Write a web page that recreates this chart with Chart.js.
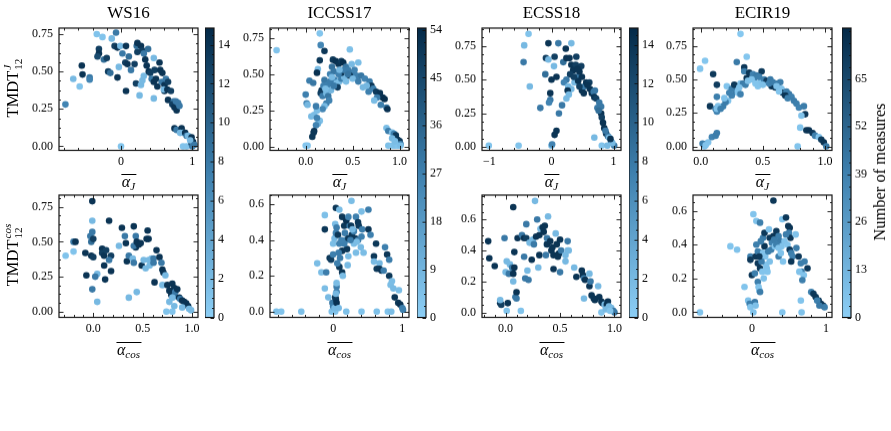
<!DOCTYPE html>
<html>
<head>
<meta charset="utf-8">
<script src="https://cdn.jsdelivr.net/npm/chart.js@4.4.1/dist/chart.umd.min.js"></script>
<style>
  body { margin: 0; width: 891px; height: 431px; position: relative; overflow: hidden; background: #fff;
         font-family: "Liberation Serif", serif; color: #000; }
  .holder { position: absolute; }
  .title { position: absolute; font-size: 17px; line-height: 20px; transform: translateX(-50%); white-space: nowrap; }
  .ylab { position: absolute; font-size: 16.5px; white-space: nowrap; transform: translate(-50%, -50%) rotate(-90deg); }
  .ss { display: inline-flex; flex-direction: column; font-size: 11px; line-height: 11px; vertical-align: 7px; margin-left: 1px; }
  .ss i { font-style: italic; }
  .xlab { position: absolute; transform: translateX(-50%); white-space: nowrap; font-size: 16px; }
  .ov { display: inline-block; line-height: 14px; border-top: 1.2px solid #000; padding: 0 1px; font-style: italic; }
  .ov sub { font-size: 11px; vertical-align: -3px; line-height: 0; }
  .cblab { position: absolute; font-size: 16.5px; white-space: nowrap; transform: translate(-50%, -50%) rotate(-90deg); }
</style>
</head>
<body>
<script>
// conference columns
const titles = ['WS16', 'ICCSS17', 'ECSS18', 'ECIR19'];

// tick values
const yTicksQuarter = [0, 0.25, 0.5, 0.75];
const yTicksFifth = [0, 0.2, 0.4, 0.6];
const xTicksUnit = [0, 1];
const xTicksHalf = [0, 0.5, 1];
const xTicksSym = [-1, 0, 1];
const cbTicksWS16 = [0, 2, 4, 6, 8, 10, 12, 14];
const cbTicksICCSS17 = [0, 9, 18, 27, 36, 45, 54];
const cbTicksECSS18 = [0, 2, 4, 6, 8, 10, 12, 14];
const cbTicksECIR19 = [0, 13, 26, 39, 52, 65];
// max number of measures per conference (top of colour bar)
const cbMax = [14.85, 54.3, 14.85, 78.8];

// points: [mean alpha, TMDT, number of measures]
const ws16J = [
  [-0.78,0.28,7],[-0.67,0.45,2],[-0.58,0.40,1],[-0.54,0.48,14],[-0.55,0.54,14],[-0.44,0.46,8],[-0.44,0.445,7],
  [-0.34,0.75,1],[-0.26,0.73,1],[-0.31,0.65,13],[-0.31,0.62,14],[-0.33,0.60,12],[-0.24,0.58,9],[-0.20,0.59,13],
  [-0.18,0.50,13],[-0.15,0.49,9],[-0.13,0.72,2],[-0.07,0.76,8],[-0.09,0.67,13],[-0.05,0.66,14],[-0.01,0.67,2],
  [-0.05,0.46,14],[-0.03,0.53,2],[0.00,0.00,1],[0.02,0.62,8],[0.07,0.67,14],[0.06,0.56,13],[0.09,0.55,14],
  [0.07,0.37,14],[0.11,0.60,9],[0.14,0.51,8],[0.19,0.55,13],[0.21,0.42,13],[0.23,0.63,13],[0.22,0.67,9],
  [0.26,0.34,2],[0.28,0.41,2],[0.30,0.44,2],[0.32,0.47,2],[0.23,0.69,14],[0.28,0.67,14],[0.30,0.64,13],[0.32,0.62,8],
  [0.34,0.58,14],[0.36,0.54,14],[0.39,0.50,14],[0.41,0.49,13],[0.43,0.45,8],[0.46,0.43,14],[0.38,0.65,9],
  [0.46,0.59,2],[0.47,0.51,13],[0.49,0.45,14],[0.51,0.40,14],[0.46,0.32,2],[0.54,0.56,14],[0.55,0.51,14],
  [0.58,0.49,14],[0.57,0.43,8],[0.61,0.41,14],[0.61,0.37,14],[0.63,0.45,8],[0.60,0.38,2],[0.65,0.38,14],
  [0.66,0.31,14],[0.66,0.43,13],[0.70,0.37,13],[0.74,0.30,8],[0.72,0.28,13],[0.75,0.26,14],[0.77,0.30,8],[0.80,0.29,8],
  [0.78,0.24,14],[0.82,0.27,8],[0.75,0.12,14],[0.78,0.11,8],[0.85,0.12,14],[0.83,0.09,2],[0.87,0.09,2],[0.90,0.09,14],
  [0.92,0.07,8],[0.94,0.07,2],[0.87,0.0,1],[0.92,0.0,1],[0.99,0.06,14],[0.99,0.02,14],[1.01,0.03,14],[1.00,0.0,8],
  [0.97,0.04,2],[1.03,0.01,8]
];
const iccss17J = [
  [-0.31,0.665,4],[0.15,0.78,3],[0.16,0.70,25],[0.20,0.66,50],[0.47,0.67,5],[0.15,0.595,50],[0.13,0.535,6],[0.12,0.51,52],
  [0.04,0.456,28],[0.08,0.44,30],[0.0,0.36,27],[0.01,0.30,25],[0.02,0.29,8],[0.06,0.21,7],[0.09,0.22,6],
  [0.15,0.18,5],[0.13,0.16,9],[0.11,0.15,26],[0.09,0.11,52],[0.085,0.10,50],[0.07,0.07,50],[0.12,0.20,26],
  [0.02,0.01,4],[0.0,0.01,3],
  [0.17,0.39,51],[0.16,0.37,48],[0.20,0.46,30],[0.18,0.35,28],[0.22,0.37,8],[0.24,0.43,27],[0.26,0.50,26],[0.28,0.55,32],
  [0.29,0.60,50],[0.32,0.59,52],[0.35,0.57,51],[0.38,0.59,49],[0.40,0.58,53],[0.43,0.55,30],[0.45,0.53,28],[0.49,0.57,7],
  [0.56,0.58,6],[0.50,0.51,29],[0.54,0.49,27],[0.59,0.49,30],[0.63,0.47,26],[0.68,0.45,28],[0.70,0.42,50],[0.65,0.42,8],
  [0.72,0.40,27],[0.75,0.38,49],[0.79,0.37,51],[0.82,0.34,52],[0.84,0.33,53],[0.76,0.34,28],[0.73,0.32,6],[0.80,0.29,27],
  [0.86,0.27,29],[0.87,0.26,52],[0.31,0.46,26],[0.33,0.44,7],[0.36,0.45,6],[0.38,0.47,27],[0.41,0.48,8],[0.43,0.45,6],
  [0.22,0.30,27],[0.20,0.28,7],[0.18,0.26,25],[0.24,0.35,30],[0.27,0.39,9],[0.34,0.41,48],[0.38,0.51,50],[0.47,0.49,49],
  [0.50,0.47,7],[0.56,0.45,28],[0.61,0.41,8],[0.67,0.38,27],
  [0.30,0.52,30],[0.26,0.45,28],[0.30,0.42,29],[0.35,0.50,27],[0.45,0.50,31],[0.52,0.53,26],[0.40,0.53,28],[0.28,0.48,7],
  [0.36,0.53,8],[0.19,0.42,27],[0.21,0.40,6],[0.25,0.32,26],[0.12,0.25,6],[0.11,0.28,28],
  [0.86,0.13,6],[0.88,0.11,28],[0.92,0.10,7],[0.94,0.09,27],[0.96,0.08,50],[0.98,0.05,52],[1.0,0.04,50],[1.01,0.02,28],
  [0.88,0.01,5],[0.92,0.01,4],[0.95,0.01,5],[0.98,0.01,4],[1.01,0.01,6],[0.92,0.06,8],[0.95,0.04,6]
];
const ecss18J = [
  [-1.01,0.01,1],[-0.53,0.01,1],[-0.37,0.84,1],[-0.44,0.755,2],[-0.45,0.63,8],[-0.35,0.45,2],
  [-0.05,0.77,14],[0.11,0.77,8],[0.32,0.77,2],[-0.09,0.66,13],[-0.05,0.65,2],[0.05,0.67,13],[0.04,0.60,2],
  [0.0,0.50,14],[0.08,0.52,14],[-0.10,0.54,9],[-0.18,0.29,8],[-0.02,0.40,14],[-0.02,0.35,8],[-0.04,0.33,7],
  [0.0,0.01,2],[0.01,0.02,7],[0.08,0.12,14],[0.05,0.09,14],[0.12,0.25,8],[0.17,0.31,8],[0.24,0.36,2],
  [0.19,0.63,9],[0.23,0.73,14],[0.24,0.66,14],[0.29,0.66,14],[0.40,0.67,13],[0.32,0.61,14],[0.39,0.61,13],
  [0.35,0.57,14],[0.30,0.54,13],[0.24,0.50,8],[0.20,0.48,7],[0.27,0.45,2],[0.32,0.43,2],[0.37,0.48,2],[0.40,0.52,8],
  [0.45,0.56,14],[0.48,0.60,13],[0.49,0.52,14],[0.43,0.49,14],[0.49,0.42,14],[0.53,0.45,8],[0.56,0.48,14],
  [0.61,0.48,13],[0.62,0.43,14],[0.65,0.40,14],[0.68,0.41,8],[0.70,0.42,8],[0.69,0.37,14],[0.72,0.36,13],
  [0.69,0.07,2],[0.77,0.33,8],[0.80,0.30,8],[0.80,0.25,14],[0.81,0.22,13],[0.85,0.14,14],[0.88,0.10,13],
  [0.91,0.08,8],[0.93,0.07,2],[0.96,0.04,8],[1.01,0.01,8],[0.81,0.01,1],[0.90,0.01,2],[0.98,0.03,2],
  [0.26,0.42,14],[0.28,0.39,2],[0.45,0.45,13],[0.52,0.40,14],[0.58,0.46,14],[0.42,0.58,14],[0.36,0.52,13],
  [0.74,0.29,8],[0.76,0.27,9],[0.83,0.18,14],[0.87,0.12,8],[0.95,0.06,14]
];
const ecir19J = [
  [-0.005,0.58,5],[0.035,0.64,4],[0.10,0.54,72],[0.13,0.46,70],[0.13,0.37,40],[0.075,0.30,73],[0.12,0.28,42],[0.13,0.26,38],
  [0.18,0.30,40],[0.22,0.34,6],[0.25,0.38,38],[0.28,0.41,41],[0.21,0.45,5],[0.29,0.63,42],[0.32,0.84,3],[0.37,0.67,4],
  [0.35,0.59,72],[0.35,0.56,40],[0.32,0.47,7],[0.29,0.43,5],[0.34,0.47,41],[0.37,0.51,74],[0.36,0.46,40],[0.39,0.55,73],
  [0.42,0.54,39],[0.45,0.53,42],[0.49,0.56,71],[0.48,0.48,6],[0.46,0.45,5],[0.43,0.51,40],[0.51,0.50,38],[0.53,0.49,70],
  [0.56,0.50,42],[0.57,0.45,74],[0.60,0.44,72],[0.62,0.47,40],[0.64,0.48,41],[0.65,0.43,6],[0.66,0.40,73],[0.63,0.41,5],
  [0.69,0.41,40],[0.71,0.39,42],[0.73,0.37,39],[0.75,0.34,41],[0.77,0.32,40],[0.79,0.29,38],[0.83,0.30,41],[0.84,0.24,72],
  [0.81,0.23,6],[0.80,0.14,5],[0.85,0.12,73],[0.87,0.12,75],[0.90,0.10,72],[0.92,0.08,40],[0.95,0.07,6],[0.97,0.05,71],
  [0.99,0.03,74],[1.01,0.0,42],[0.78,0.0,5],[0.30,0.40,6],[0.32,0.39,39],[0.20,0.33,41],[0.13,0.28,6],[0.14,0.30,7],
  [0.03,0.0,5],[0.035,0.01,6],[0.06,0.03,6],[0.09,0.07,38],[0.12,0.08,40],[0.13,0.10,41],[0.015,0.02,40],[0.04,0.01,5],
  [0.25,0.43,40],[0.27,0.46,72],[0.31,0.44,6],[0.38,0.49,7],[0.41,0.50,6],[0.44,0.47,5],[0.47,0.52,40],[0.50,0.46,7],
  [0.55,0.47,39],[0.58,0.48,41],[0.61,0.45,7],[0.68,0.38,74],[0.70,0.36,40],[0.23,0.40,39],[0.19,0.36,6],[0.16,0.28,40]
];
const ws16Cos = [
  [-0.28,0.40,1],[-0.20,0.43,1],[-0.20,0.50,8],[-0.18,0.50,14],[-0.08,0.42,14],[-0.07,0.26,14],[-0.03,0.54,8],
  [-0.02,0.50,9],[0.0,0.52,13],[-0.01,0.57,8],[-0.01,0.65,2],[-0.01,0.79,14],[-0.02,0.40,14],[0.0,0.39,13],
  [-0.01,0.16,8],[0.04,0.27,2],[0.02,0.25,8],[0.04,0.07,2],[0.09,0.45,14],[0.09,0.42,13],[0.11,0.40,14],
  [0.11,0.33,14],[0.12,0.23,14],[0.13,0.44,13],[0.16,0.65,14],[0.18,0.40,13],[0.18,0.29,14],[0.16,0.37,8],
  [0.26,0.47,2],[0.29,0.60,14],[0.32,0.54,8],[0.33,0.49,14],[0.34,0.36,14],[0.36,0.40,8],[0.36,0.10,2],
  [0.40,0.38,2],[0.41,0.35,8],[0.41,0.61,14],[0.43,0.54,8],[0.43,0.46,14],[0.41,0.47,8],[0.44,0.14,2],[0.44,0.50,14],
  [0.46,0.48,14],[0.48,0.49,14],[0.49,0.33,14],[0.51,0.37,2],[0.53,0.31,2],[0.55,0.58,14],[0.54,0.52,14],[0.56,0.52,14],
  [0.56,0.37,2],[0.59,0.38,2],[0.57,0.33,2],[0.61,0.38,8],[0.61,0.35,8],[0.64,0.44,14],[0.62,0.21,14],[0.67,0.39,14],
  [0.69,0.35,8],[0.70,0.30,14],[0.71,0.28,14],[0.70,0.19,2],[0.73,0.26,2],[0.75,0.19,14],[0.77,0.15,14],[0.79,0.12,14],
  [0.77,0.07,2],[0.80,0.20,14],[0.82,0.17,14],[0.83,0.14,8],[0.82,0.11,8],[0.80,0.10,2],[0.85,0.16,14],[0.87,0.10,14],
  [0.80,0.0,1],[0.82,0.04,2],[0.88,0.09,8],[0.90,0.08,14],[0.92,0.07,14],[0.94,0.06,14],[0.96,0.04,14],[0.97,0.02,2],
  [0.99,0.01,2],[0.74,0.0,1],[0.90,0.03,2]
];
const iccss17Cos = [
  [-0.82,0.0,5],[-0.75,0.0,4],[-0.46,0.0,5],[0.19,0.0,5],[0.41,0.0,4],[0.63,0.0,5],[0.79,0.0,4],[0.84,0.0,6],[-0.02,0.0,5],[0.03,0.0,4],
  [-0.23,0.27,6],[-0.17,0.22,6],[-0.10,0.22,28],[-0.12,0.54,5],[-0.12,0.46,50],[-0.12,0.13,6],[-0.07,0.08,7],
  [-0.05,0.30,50],[-0.03,0.29,48],[-0.01,0.05,30],[0.0,0.03,28],[0.02,0.02,7],[0.03,0.08,50],[0.04,0.07,49],[0.05,0.05,52],
  [0.05,0.14,28],[0.05,0.11,26],[0.04,0.10,8],[0.05,0.16,6],[0.08,0.02,7],
  [0.0,0.32,27],[0.00,0.38,6],[0.02,0.41,7],[0.04,0.44,26],[0.03,0.49,6],[0.04,0.58,50],[0.09,0.57,6],[0.05,0.47,28],
  [0.07,0.43,50],[0.09,0.38,27],[0.13,0.34,50],[0.10,0.30,28],[0.09,0.25,50],[0.13,0.22,50],[0.14,0.20,6],
  [0.16,0.48,50],[0.17,0.44,28],[0.18,0.40,27],[0.20,0.35,50],[0.22,0.31,6],[0.21,0.26,7],[0.24,0.48,28],[0.27,0.43,50],
  [0.265,0.62,6],[0.33,0.53,27],[0.36,0.50,50],[0.37,0.48,49],[0.41,0.56,6],[0.42,0.46,28],[0.41,0.42,27],[0.33,0.33,6],
  [0.40,0.36,7],[0.44,0.33,6],[0.51,0.57,28],[0.51,0.46,51],[0.54,0.43,27],[0.62,0.38,50],[0.59,0.31,50],[0.59,0.28,7],
  [0.67,0.27,8],[0.63,0.24,49],[0.67,0.24,50],[0.70,0.23,51],[0.73,0.23,28],[0.75,0.36,27],[0.78,0.32,50],[0.81,0.29,28],
  [0.81,0.20,50],[0.85,0.17,6],[0.83,0.15,6],[0.87,0.13,7],[0.89,0.08,51],[0.94,0.05,50],[0.97,0.04,52],[0.95,0.12,6],
  [1.0,0.02,28],[1.01,0.01,27],
  [0.13,0.53,50],[0.19,0.51,52],[0.22,0.53,27],[0.26,0.48,50],[0.30,0.45,27],[0.32,0.41,50],[0.36,0.40,28],[0.22,0.41,50],
  [0.16,0.38,27],[0.08,0.33,28],[0.06,0.27,27],[0.30,0.38,6],[0.34,0.39,6],[0.28,0.46,7],[0.25,0.40,28],[0.12,0.40,26]
];
const ecss18Cos = [
  [-0.16,0.46,14],[-0.15,0.35,14],[-0.10,0.30,14],[-0.05,0.06,14],[-0.04,0.05,13],[-0.05,0.08,2],[-0.01,0.48,8],
  [0.01,0.33,2],[0.0,0.26,2],[0.01,0.01,1],[0.02,0.06,14],[0.03,0.25,8],[0.04,0.31,2],[0.06,0.29,8],[0.07,0.25,14],
  [0.08,0.39,14],[0.07,0.20,2],[0.08,0.29,14],[0.09,0.10,8],[0.10,0.13,14],[0.10,0.09,8],[0.07,0.68,14],[0.11,0.48,14],
  [0.14,0.01,1],[0.15,0.50,8],[0.17,0.36,8],[0.19,0.57,8],[0.17,0.48,14],[0.19,0.48,13],[0.18,0.22,8],[0.20,0.27,2],
  [0.21,0.21,8],[0.22,0.45,2],[0.24,0.34,14],[0.25,0.47,2],[0.26,0.44,8],[0.27,0.72,2],[0.28,0.49,14],[0.29,0.60,8],
  [0.30,0.29,2],[0.31,0.37,14],[0.31,0.50,14],[0.32,0.54,2],[0.34,0.55,14],[0.35,0.52,14],[0.36,0.56,14],[0.38,0.44,2],
  [0.39,0.62,2],[0.38,0.44,14],[0.37,0.37,8],[0.38,0.48,8],[0.41,0.46,14],[0.42,0.40,14],[0.43,0.42,14],[0.44,0.37,14],
  [0.44,0.28,14],[0.47,0.44,14],[0.46,0.51,2],[0.49,0.38,14],[0.48,0.36,14],[0.50,0.47,14],[0.50,0.26,8],[0.51,0.40,8],
  [0.55,0.37,2],[0.55,0.33,2],[0.57,0.46,8],[0.57,0.40,2],[0.58,0.40,2],[0.63,0.29,2],[0.65,0.23,14],[0.70,0.27,14],
  [0.71,0.24,14],[0.72,0.22,8],[0.73,0.21,14],[0.77,0.17,14],[0.77,0.25,2],[0.78,0.20,8],[0.79,0.11,14],[0.81,0.09,14],
  [0.82,0.08,14],[0.85,0.17,2],[0.86,0.10,14],[0.88,0.07,14],[0.89,0.06,14],[0.91,0.05,2],[0.93,0.05,14],[0.94,0.07,14],
  [0.95,0.04,2],[0.97,0.03,2],[0.99,0.01,8],[1.0,0.0,8],[0.88,0.0,1],[0.72,0.09,2],[0.92,0.02,2],[0.96,0.01,1]
];
const ecir19Cos = [
  [-0.70,0.0,5],[-0.29,0.39,5],[-0.20,0.37,6],[-0.10,0.15,5],[-0.05,0.07,6],[-0.03,0.05,40],[-0.02,0.03,5],[0.02,0.0,6],
  [0.04,0.06,42],[0.05,0.04,7],[0.02,0.58,5],[0.06,0.54,6],[0.11,0.53,40],[-0.02,0.33,39],[-0.02,0.31,72],[0.0,0.22,73],
  [0.04,0.23,40],[0.05,0.33,73],[0.06,0.40,40],[0.08,0.29,72],[0.08,0.18,40],[0.09,0.15,6],[0.10,0.13,5],[0.11,0.12,41],
  [0.11,0.26,73],[0.13,0.35,40],[0.15,0.44,41],[0.17,0.47,72],[0.17,0.39,74],[0.18,0.33,6],[0.19,0.28,5],[0.20,0.26,6],
  [0.21,0.24,5],[0.23,0.49,6],[0.24,0.44,72],[0.26,0.37,40],[0.27,0.41,39],[0.29,0.45,73],[0.33,0.48,72],[0.31,0.39,5],
  [0.36,0.45,40],[0.38,0.42,42],[0.36,0.33,40],[0.40,0.39,6],[0.41,0.55,5],[0.46,0.56,72],[0.49,0.51,73],[0.51,0.50,74],
  [0.50,0.47,40],[0.52,0.44,73],[0.46,0.46,41],[0.44,0.42,6],[0.48,0.40,5],[0.51,0.37,72],[0.53,0.35,40],[0.55,0.33,39],
  [0.53,0.30,73],[0.59,0.46,6],[0.60,0.38,41],[0.63,0.33,72],[0.66,0.29,40],[0.67,0.24,41],[0.64,0.24,6],[0.70,0.22,5],
  [0.68,0.19,40],[0.71,0.30,40],[0.75,0.26,72],[0.29,0.66,73],[0.42,0.30,5],[0.41,0.0,5],[0.67,0.0,6],[0.66,0.07,5],
  [0.80,0.12,40],[0.83,0.11,72],[0.86,0.09,73],[0.90,0.07,74],[0.93,0.05,72],[0.96,0.04,73],[0.98,0.03,40],[0.88,0.07,40],
  [0.91,0.04,42],
  [0.08,0.36,40],[0.12,0.42,40],[0.15,0.35,6],[0.22,0.36,40],[0.24,0.30,7],[0.30,0.43,41],[0.33,0.40,40],[0.36,0.38,6],
  [0.39,0.35,6],[0.14,0.24,5],[0.16,0.20,6],[0.13,0.30,41],[0.10,0.33,72]
];

// ---- layout ----
const colLeft = [59, 270, 482, 693];
const rowTop = [28, 195];
const PW = 139, PH = 121.5;
const cbLeft = [205, 417, 629, 842];
const CBW = 9;
const PADL = 45, PADT = 10, PADR = 14, PADB = 24;

Chart.defaults.font.family = "'Liberation Serif', serif";
Chart.defaults.font.size = 12;
Chart.defaults.color = '#000';

const stops = [[0, [140, 206, 245]], [0.5, [62, 128, 174]], [1, [4, 42, 72]]];
function cmap(t) {
  t = Math.max(0, Math.min(1, t));
  for (let i = 1; i < stops.length; i++) {
    if (t <= stops[i][0]) {
      const a = stops[i - 1], b = stops[i];
      const f = (t - a[0]) / (b[0] - a[0]);
      const c = a[1].map((v, k) => Math.round(v + (b[1][k] - v) * f));
      return `rgb(${c[0]},${c[1]},${c[2]})`;
    }
  }
}

function minorVals(min, max, step, majors) {
  const out = [];
  for (let k = Math.ceil(min / step - 1e-9); k * step <= max + 1e-9; k++) {
    const v = +(k * step).toFixed(6);
    if (!majors.some(m => Math.abs(m - v) < 1e-6)) out.push(v);
  }
  return out;
}

// inward ticks on every side plus the frame
function framePlugin(cfg) {
  return {
    id: 'frame',
    afterDatasetsDraw(chart) {
      const { ctx, chartArea: a } = chart;
      ctx.save();
      ctx.strokeStyle = '#111';
      ctx.lineWidth = 0.9;
      ctx.beginPath();
      const xs = chart.scales.x, ys = chart.scales.y;
      if (cfg.xTicks) {
        const vt = (v, len) => {
          const p = Math.round(xs.getPixelForValue(v)) + 0.5;
          ctx.moveTo(p, a.bottom); ctx.lineTo(p, a.bottom - len);
          ctx.moveTo(p, a.top); ctx.lineTo(p, a.top + len);
        };
        cfg.xTicks.forEach(v => vt(v, 4.5));
        minorVals(xs.min, xs.max, cfg.xMinor, cfg.xTicks).forEach(v => vt(v, 2.5));
      }
      const ht = (v, len) => {
        const p = Math.round(ys.getPixelForValue(v)) + 0.5;
        if (!cfg.rightOnly) { ctx.moveTo(a.left, p); ctx.lineTo(a.left + len, p); }
        ctx.moveTo(a.right, p); ctx.lineTo(a.right - len, p);
      };
      cfg.yTicks.forEach(v => ht(v, cfg.rightOnly ? 3.5 : 4.5));
      minorVals(ys.min, ys.max, cfg.yMinor, cfg.yTicks).forEach(v => ht(v, 2));
      ctx.stroke();
      ctx.lineWidth = 1.2;
      ctx.strokeRect(a.left, a.top, a.width, a.height);
      ctx.restore();
    }
  };
}

function fmt(v, dec) {
  return v.toFixed(dec).replace('-', '\u2212');
}

function holder(left, top, w, h) {
  const d = document.createElement('div');
  d.className = 'holder';
  d.style.cssText = `left:${left}px;top:${top}px;width:${w}px;height:${h}px`;
  const c = document.createElement('canvas');
  d.appendChild(c);
  document.body.appendChild(d);
  return c;
}

function makeScatter(p) {
  const cv = holder(p.left - PADL, p.top - PADT, PW + PADL + PADR, PH + PADT + PADB);
  new Chart(cv, {
    type: 'scatter',
    data: {
      datasets: [{
        data: p.pts.map(d => ({ x: d[0], y: d[1] })),
        backgroundColor: p.pts.map(d => cmap(d[2] / p.cmax)),
        borderWidth: 0,
        pointRadius: 3.3,
        pointHoverRadius: 3.3
      }]
    },
    options: {
      responsive: true, maintainAspectRatio: false, animation: false, events: [],
      layout: { padding: { left: 0, top: PADT, right: PADR, bottom: 0 } },
      plugins: { legend: { display: false }, tooltip: { enabled: false } },
      scales: {
        x: {
          type: 'linear', min: p.xMin, max: p.xMax,
          afterBuildTicks: s => { s.ticks = p.xTicks.map(v => ({ value: v })); },
          afterFit: s => { s.height = PADB; s.paddingLeft = 0; s.paddingRight = 0; },
          grid: { display: false, drawTicks: false }, border: { display: false },
          ticks: { callback: v => fmt(v, p.xDec), padding: 4, maxRotation: 0, autoSkip: false }
        },
        y: {
          type: 'linear', min: p.yMin, max: p.yMax,
          afterBuildTicks: s => { s.ticks = p.yTicks.map(v => ({ value: v })); },
          afterFit: s => { s.width = PADL; s.paddingTop = 0; s.paddingBottom = 0; },
          grid: { display: false, drawTicks: false }, border: { display: false },
          ticks: { callback: v => fmt(v, p.yDec), padding: 6, autoSkip: false }
        }
      }
    },
    plugins: [framePlugin(p)]
  });
}

function makeColorbar(i, ticks) {
  const top = rowTop[0], h = rowTop[1] + PH - rowTop[0];
  const cv = holder(cbLeft[i], top - 8, CBW + 30, h + 16);
  const max = cbMax[i];
  new Chart(cv, {
    type: 'bar',
    data: {
      labels: [''],
      datasets: [{
        data: [[0, max]],
        borderWidth: 0, borderSkipped: false,
        barPercentage: 1, categoryPercentage: 1,
        backgroundColor: c => {
          const a = c.chart.chartArea;
          if (!a) return cmap(0.5);
          const g = c.chart.ctx.createLinearGradient(0, a.bottom, 0, a.top);
          stops.forEach(s => g.addColorStop(s[0], cmap(s[0])));
          return g;
        }
      }]
    },
    options: {
      responsive: true, maintainAspectRatio: false, animation: false, events: [],
      layout: { padding: { left: 0, top: 8, right: 0, bottom: 8 } },
      plugins: { legend: { display: false }, tooltip: { enabled: false } },
      scales: {
        x: { display: false },
        y: {
          position: 'right', min: 0, max: max,
          afterBuildTicks: s => { s.ticks = ticks.map(v => ({ value: v })); },
          afterFit: s => { s.width = 30; s.paddingTop = 0; s.paddingBottom = 0; },
          grid: { display: false, drawTicks: false }, border: { display: false },
          ticks: { callback: v => String(v), padding: 4, autoSkip: false }
        }
      }
    },
    plugins: [framePlugin({ yTicks: ticks, yMinor: (ticks[1] - ticks[0]) / 4, rightOnly: true })]
  });
}

const panels = [
  { pts: ws16J, col: 0, row: 0, xMin: -0.87, xMax: 1.08, yMin: -0.027, yMax: 0.79, xTicks: xTicksUnit, xDec: 0, xMinor: 0.2, yTicks: yTicksQuarter, yDec: 2, yMinor: 0.0625 },
  { pts: iccss17J, col: 1, row: 0, xMin: -0.38, xMax: 1.1, yMin: -0.023, yMax: 0.817, xTicks: xTicksHalf, xDec: 1, xMinor: 0.1, yTicks: yTicksQuarter, yDec: 2, yMinor: 0.0625 },
  { pts: ecss18J, col: 2, row: 0, xMin: -1.12, xMax: 1.12, yMin: -0.025, yMax: 0.883, xTicks: xTicksSym, xDec: 0, xMinor: 0.2, yTicks: yTicksQuarter, yDec: 2, yMinor: 0.0625 },
  { pts: ecir19J, col: 3, row: 0, xMin: -0.062, xMax: 1.056, yMin: -0.03, yMax: 0.884, xTicks: xTicksHalf, xDec: 1, xMinor: 0.1, yTicks: yTicksQuarter, yDec: 2, yMinor: 0.0625 },
  { pts: ws16Cos, col: 0, row: 1, xMin: -0.347, xMax: 1.06, yMin: -0.041, yMax: 0.834, xTicks: xTicksHalf, xDec: 1, xMinor: 0.1, yTicks: yTicksQuarter, yDec: 2, yMinor: 0.0625 },
  { pts: iccss17Cos, col: 1, row: 1, xMin: -0.912, xMax: 1.096, yMin: -0.032, yMax: 0.652, xTicks: xTicksUnit, xDec: 0, xMinor: 0.2, yTicks: yTicksFifth, yDec: 1, yMinor: 0.05 },
  { pts: ecss18Cos, col: 2, row: 1, xMin: -0.217, xMax: 1.06, yMin: -0.032, yMax: 0.758, xTicks: xTicksHalf, xDec: 1, xMinor: 0.1, yTicks: yTicksFifth, yDec: 1, yMinor: 0.05 },
  { pts: ecir19Cos, col: 3, row: 1, xMin: -0.794, xMax: 1.08, yMin: -0.03, yMax: 0.693, xTicks: xTicksUnit, xDec: 0, xMinor: 0.2, yTicks: yTicksFifth, yDec: 1, yMinor: 0.05 }
];

panels.forEach(p => {
  p.left = colLeft[p.col];
  p.top = rowTop[p.row];
  p.cmax = cbMax[p.col];
  makeScatter(p);
});
[cbTicksWS16, cbTicksICCSS17, cbTicksECSS18, cbTicksECIR19].forEach((t, i) => makeColorbar(i, t));

// text: titles, axis labels, colour bar label
function addText(cls, html, left, top) {
  const d = document.createElement('div');
  d.className = cls;
  d.innerHTML = html;
  d.style.left = left + 'px';
  d.style.top = top + 'px';
  document.body.appendChild(d);
}
titles.forEach((t, i) => {
  const cx = colLeft[i] + PW / 2;
  addText('title', t, cx, 3);
  addText('xlab', '<span class="ov">\u03b1<sub>J</sub></span>', cx, 173);
  addText('xlab', '<span class="ov">\u03b1<sub>cos</sub></span>', cx, 341);
});
addText('ylab', 'TMDT<span class="ss"><i>J</i><span>12</span></span>', 13, 88);
addText('ylab', 'TMDT<span class="ss"><i>cos</i><span>12</span></span>', 13, 255);
addText('cblab', 'Number of measures', 880, 172);
</script>
</body>
</html>
